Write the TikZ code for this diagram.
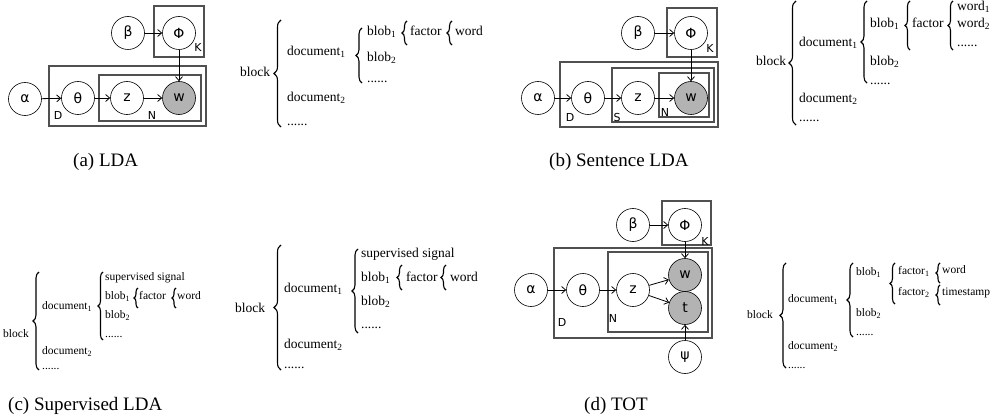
\documentclass[tikz,border=0pt]{standalone}
\usepackage{fontspec}
\setmainfont{Liberation Serif}
\newfontfamily\dvsans{DejaVu Sans}
\usetikzlibrary{arrows.meta,decorations.pathreplacing}
\definecolor{plategray}{HTML}{505050}
\definecolor{obsgray}{HTML}{B3B3B3}
\newcommand\sbs[1]{\textsubscript{#1}}
\tikzset{
 var/.style={circle,draw,line width=0.6pt,minimum size=33pt,inner sep=0pt,font=\dvsans\fontsize{14}{14}\selectfont},
 obs/.style={var,fill=obsgray},
 plate/.style={draw=plategray,line width=1.3pt},
 plbl/.style={inner sep=0pt,font=\dvsans\fontsize{11}{11}\selectfont},
 edge/.style={-{Straight Barb[length=4pt,width=7pt]},line width=0.8pt},
 tt/.style={anchor=west,inner sep=0pt,text height=10pt,text depth=3pt,font=\fontsize{13.5}{13.5}\selectfont},
 ts/.style={anchor=west,inner sep=0pt,text height=8pt,text depth=2.5pt,font=\fontsize{11.5}{11.5}\selectfont},
 brc/.style={decorate,decoration={brace,amplitude=#1},line width=1.1pt},
 capt/.style={anchor=base west,inner sep=0pt,font=\fontsize{19}{19}\selectfont},
}
\begin{document}
\begin{tikzpicture}[x=1pt,y=-1pt]
\useasboundingbox (0,0) rectangle (1007,417);

% ---------- (a) LDA model ----------
\draw[plate] (154,6) rectangle (204,57);
\draw[plate] (49,66) rectangle (206,126);
\draw[plate] (99,75) rectangle (201,121);
\node[plbl] (aK) at (198,47) {K};
\node[plbl] (aD) at (58,115) {D};
\node[plbl] (aN) at (152,115) {N};
\node[var] (aAlpha) at (25,99) {α};
\node[var] (aTheta) at (78,98) {θ};
\node[var] (aZ) at (127,98) {z};
\node[obs] (aW) at (179,98) {w};
\node[var] (aBeta) at (128,33) {β};
\node[var] (aPhi) at (179,33) {Φ};
\draw[edge] (aAlpha) -- (aTheta);
\draw[edge] (aTheta) -- (aZ);
\draw[edge] (aZ) -- (aW);
\draw[edge] (aBeta) -- (aPhi);
\draw[edge] (aPhi) -- (aW);

% ---------- (a) tree ----------
\node[tt] (aBlock) at (240,73) {block};
\draw[brc=7pt] (281,127) -- (281,20);
\node[tt] (aDoc1) at (287,52) {document\sbs{1}};
\node[tt] (aDoc2) at (287,98) {document\sbs{2}};
\node[tt] (aDots1) at (287,122) {......};
\draw[brc=6pt] (362,83) -- (362,28);
\node[tt] (aBlob1) at (367,32) {blob\sbs{1}};
\node[tt] (aBlob2) at (367,58) {blob\sbs{2}};
\node[tt] (aDots2) at (367,79) {......};
\draw[brc=5pt] (407,45) -- (407,21);
\node[tt] (aFactor) at (410,32) {factor};
\draw[brc=5pt] (452,45) -- (452,21);
\node[tt] (aWord) at (455,32) {word};

% ---------- (b) Sentence LDA model ----------
\draw[plate] (667,8) rectangle (717,57);
\draw[plate] (560,62) rectangle (718,127);
\draw[plate] (612,68) rectangle (714,122);
\draw[plate] (659,73) rectangle (709,117);
\node[plbl] (bK) at (710,48) {K};
\node[plbl] (bD) at (570,117) {D};
\node[plbl] (bS) at (617,117) {S};
\node[plbl] (bN) at (665,112) {N};
\node[var] (bAlpha) at (538,98) {α};
\node[var] (bTheta) at (588,98) {θ};
\node[var] (bZ) at (638,98) {z};
\node[obs] (bW) at (691,98) {w};
\node[var] (bBeta) at (638,33) {β};
\node[var] (bPhi) at (691,33) {Φ};
\draw[edge] (bAlpha) -- (bTheta);
\draw[edge] (bTheta) -- (bZ);
\draw[edge] (bZ) -- (bW);
\draw[edge] (bBeta) -- (bPhi);
\draw[edge] (bPhi) -- (bW);

% ---------- (b) tree ----------
\node[tt] (bBlock) at (756,62) {block};
\draw[brc=7pt] (796,125) -- (796,1);
\node[tt] (bDoc1) at (799,43) {document\sbs{1}};
\node[tt] (bDoc2) at (799,99) {document\sbs{2}};
\node[tt] (bDots1) at (799,118) {......};
\draw[brc=6pt] (867,83) -- (867,1);
\node[tt] (bBlob1) at (870,24) {blob\sbs{1}};
\node[tt] (bBlob2) at (870,62) {blob\sbs{2}};
\node[tt] (bDots2) at (870,81) {......};
\draw[brc=5pt] (910,50) -- (910,1);
\node[tt] (bFactor) at (912,24) {factor};
\draw[brc=5pt] (953,50) -- (953,1);
\node[tt] (bWord1) at (957,7) {word\sbs{1}};
\node[tt] (bWord2) at (957,24) {word\sbs{2}};
\node[tt] (bDots3) at (957,43) {......};

% ---------- (c) small tree ----------
\node[ts] (cBlock) at (3,335) {block};
\draw[brc=6pt] (39,370) -- (39,272);
\node[ts] (cDoc1) at (42,307) {document\sbs{1}};
\node[ts] (cDoc2) at (42,352) {document\sbs{2}};
\node[ts] (cDots1) at (42,367) {......};
\draw[brc=5pt] (103,340) -- (103,272);
\node[ts] (cSup) at (105,278) {supervised signal};
\node[ts] (cBlob1) at (105,297) {blob\sbs{1}};
\node[ts] (cBlob2) at (105,316) {blob\sbs{2}};
\node[ts] (cDots2) at (105,335) {......};
\draw[brc=4pt] (138,308) -- (138,288);
\node[ts] (cFactor) at (139,297) {factor};
\draw[brc=4pt] (176,308) -- (176,288);
\node[ts] (cWord) at (177,297) {word};

% ---------- (c) large tree ----------
\node[tt] (ccBlock) at (235,309) {block};
\draw[brc=7pt] (281,370) -- (281,245);
\node[tt] (ccDoc1) at (284,289) {document\sbs{1}};
\node[tt] (ccDoc2) at (284,345) {document\sbs{2}};
\node[tt] (ccDots1) at (284,365) {......};
\draw[brc=6pt] (358,333) -- (358,249);
\node[tt] (ccSup) at (361,254) {supervised signal};
\node[tt] (ccBlob1) at (361,278) {blob\sbs{1}};
\node[tt] (ccBlob2) at (361,302) {blob\sbs{2}};
\node[tt] (ccDots2) at (361,325) {......};
\draw[brc=5pt] (402,290) -- (402,265);
\node[tt] (ccFactor) at (406,278) {factor};
\draw[brc=5pt] (446,290) -- (446,265);
\node[tt] (ccWord) at (450,278) {word};

% ---------- (d) TOT model ----------
\draw[plate] (662,201) rectangle (711,245);
\draw[plate] (554,248) rectangle (712,338);
\draw[plate] (608,252) rectangle (708,332);
\node[plbl] (dK) at (705,241) {K};
\node[plbl] (dD) at (562,322) {D};
\node[plbl] (dN) at (613,318) {N};
\node[var] (dAlpha) at (531,290) {α};
\node[var] (dTheta) at (583,290) {θ};
\node[var] (dZ) at (633,290) {z};
\node[obs] (dW) at (685,275) {w};
\node[obs] (dT) at (685,308) {t};
\node[var] (dBeta) at (633,225) {β};
\node[var] (dPhi) at (685,225) {Φ};
\node[var] (dPsi) at (685,357) {ψ};
\draw[edge] (dAlpha) -- (dTheta);
\draw[edge] (dTheta) -- (dZ);
\draw[edge] (dZ) -- (dW);
\draw[edge] (dZ) -- (dT);
\draw[edge] (dBeta) -- (dPhi);
\draw[edge] (dPhi) -- (dW);
\draw[edge] (dPsi) -- (dT);

% ---------- (d) tree ----------
\node[ts] (dBlock) at (747,316) {block};
\draw[brc=6pt] (786,368) -- (786,263);
\node[ts] (dDoc1) at (788,300) {document\sbs{1}};
\node[ts] (dDoc2) at (788,347) {document\sbs{2}};
\node[ts] (dDots1) at (788,366) {......};
\draw[brc=6pt] (853,337) -- (853,263);
\node[ts] (dBlob1) at (856,273) {blob\sbs{1}};
\node[ts] (dBlob2) at (856,314) {blob\sbs{2}};
\node[ts] (dDots2) at (856,333) {......};
\draw[brc=5pt] (895,304) -- (895,263);
\node[ts] (dFac1) at (898,272) {factor\sbs{1}};
\node[ts] (dFac2) at (898,293) {factor\sbs{2}};
\draw[brc=4pt] (940,283) -- (940,263);
\draw[brc=4pt] (940,305) -- (940,285);
\node[ts] (dWord) at (942,271) {word};
\node[ts] (dTime) at (942,293) {timestamp};

% ---------- captions ----------
\node[capt] (capA) at (73,167) {(a) LDA};
\node[capt] (capB) at (549,167) {(b) Sentence LDA};
\node[capt] (capC) at (8,410) {(c) Supervised LDA};
\node[capt] (capD) at (584,410) {(d) TOT};
\end{tikzpicture}
\end{document}
